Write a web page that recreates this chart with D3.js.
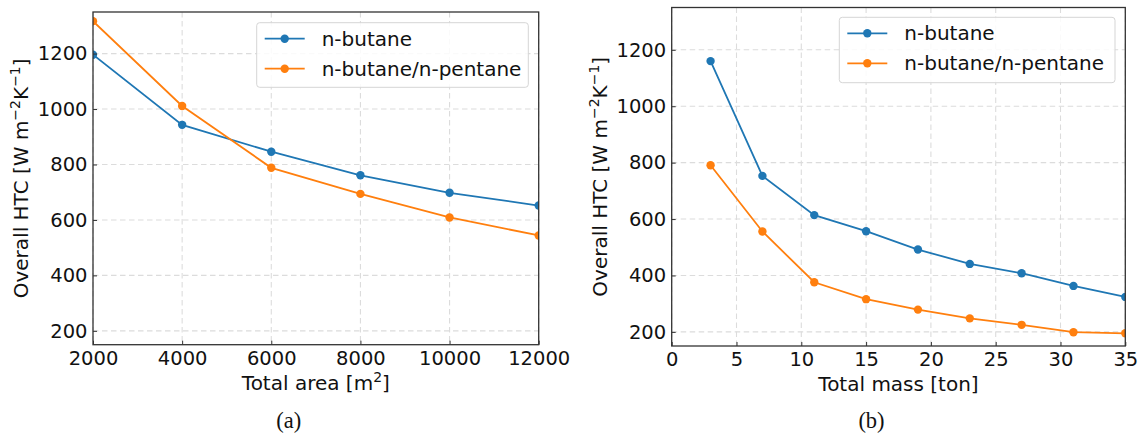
<!DOCTYPE html>
<html><head><meta charset="utf-8">
<script src="https://cdn.jsdelivr.net/npm/d3@7"></script>
<style>body{margin:0;background:#fff}svg{display:block}</style>
</head><body>
<svg id="c" width="1142" height="436"></svg>
<script>
// ---- data ----
const seriesNames = ["n-butane", "n-butane/n-pentane"];
const seriesColors = ["#1f77b4", "#ff7f0e"];
const areaX = [2000, 4000, 6000, 8000, 10000, 12000];
const areaButane = [1196, 943, 846, 761, 698, 652];
const areaMix = [1317, 1011, 788, 694, 609, 544];
const massX = [3, 7, 11, 15, 19, 23, 27, 31, 35];
const massButane = [1160, 753, 614, 557, 492, 441, 408, 363, 324];
const massMix = [791, 556, 376, 316, 279, 248, 225, 199, 195];
const yTicks = [200, 400, 600, 800, 1000, 1200];
const areaTicks = [2000, 4000, 6000, 8000, 10000, 12000];
const massTicks = [0, 5, 10, 15, 20, 25, 30, 35];

const svg = d3.select("#c");
const FONT = "DejaVu Sans";
const FS = 20;

function panel(id, box, xDomain, xTicks, xs, ysList, xLabelParts, caption, legendBox) {
  const g = svg.append("g");
  const x = d3.scaleLinear().domain(xDomain).range([box.l, box.r]);
  const y = d3.scaleLinear().domain([150, 1350]).range([box.b, box.t]);

  // grid
  g.selectAll(".gx").data(xTicks).enter().append("line")
    .attr("x1", d => x(d)).attr("x2", d => x(d)).attr("y1", box.t).attr("y2", box.b)
    .attr("stroke", "#dcdcdc").attr("stroke-width", 1.1).attr("stroke-dasharray", "5.5,3.5");
  g.selectAll(".gy").data(yTicks).enter().append("line")
    .attr("y1", d => y(d)).attr("y2", d => y(d)).attr("x1", box.l).attr("x2", box.r)
    .attr("stroke", "#dcdcdc").attr("stroke-width", 1.1).attr("stroke-dasharray", "5.5,3.5");

  // clip
  svg.append("clipPath").attr("id", "clip" + id).append("rect")
    .attr("x", box.l).attr("y", box.t).attr("width", box.r - box.l).attr("height", box.b - box.t);
  const pg = g.append("g").attr("clip-path", `url(#clip${id})`);
  const line = d3.line().x((d, i) => x(xs[i])).y(d => y(d));
  ysList.forEach((ys, k) => {
    pg.append("path").datum(ys).attr("d", line).attr("fill", "none")
      .attr("stroke", seriesColors[k]).attr("stroke-width", 1.8);
    pg.selectAll(".m" + k).data(ys).enter().append("circle")
      .attr("cx", (d, i) => x(xs[i])).attr("cy", d => y(d)).attr("r", 4.2)
      .attr("fill", seriesColors[k]);
  });

  // axes
  const xa = g.append("g").attr("transform", `translate(0,${box.b})`)
    .call(d3.axisBottom(x).tickValues(xTicks).tickSize(-4).tickPadding(6).tickFormat(d3.format("d")));
  const ya = g.append("g").attr("transform", `translate(${box.l},0)`)
    .call(d3.axisLeft(y).tickValues(yTicks).tickSize(-4).tickPadding(5.5).tickFormat(d3.format("d")));
  [xa, ya].forEach(a => {
    a.select(".domain").remove();
    a.selectAll(".tick line").attr("stroke", "#333");
    a.selectAll("text").attr("font-family", FONT).attr("font-size", 19.5).attr("fill", "#111");
  });
  xa.selectAll("text").attr("dy", "0.71em");
  // frame
  g.append("rect").attr("x", box.l).attr("y", box.t).attr("width", box.r - box.l).attr("height", box.b - box.t)
    .attr("fill", "none").attr("stroke", "#333").attr("stroke-width", 1.3);

  // x label
  const xl = g.append("text").attr("x", (box.l + box.r) / 2).attr("y", box.b + 45)
    .attr("text-anchor", "middle").attr("font-family", FONT).attr("font-size", FS).attr("fill", "#111");
  xLabelParts.forEach(p => {
    const t = xl.append("tspan").text(p.t);
    if (p.sup) t.attr("font-size", 14).attr("dy", -8);
    else if (p.after) t.attr("dy", 8);
  });

  // y label
  const yl = g.append("text")
    .attr("transform", `translate(${box.l - 65},${(box.t + box.b) / 2}) rotate(-90)`)
    .attr("text-anchor", "middle").attr("font-family", FONT).attr("font-size", FS).attr("fill", "#111");
  yl.append("tspan").text("Overall HTC [W m");
  yl.append("tspan").text("\u22122").attr("font-size", 14).attr("dy", -8);
  yl.append("tspan").text("K").attr("dy", 8);
  yl.append("tspan").text("\u22121").attr("font-size", 14).attr("dy", -8);
  yl.append("tspan").text("]").attr("dy", 8);

  // caption
  g.append("text").attr("x", (box.l + box.r) / 2 - 27).attr("y", 428)
    .attr("text-anchor", "middle").attr("font-family", "Liberation Serif").attr("font-size", 22.5)
    .attr("fill", "#111").text(caption);

  // legend
  const lg = g.append("g");
  lg.append("rect").attr("x", legendBox.x).attr("y", legendBox.y).attr("width", legendBox.w).attr("height", legendBox.h)
    .attr("rx", 3).attr("fill", "#fff").attr("fill-opacity", 0.85).attr("stroke", "#d5d5d5").attr("stroke-width", 1);
  seriesNames.forEach((nm, k) => {
    const cy = legendBox.y + 16 + k * 30;
    const hx = legendBox.x + 8;
    lg.append("line").attr("x1", hx).attr("x2", hx + 40).attr("y1", cy).attr("y2", cy)
      .attr("stroke", seriesColors[k]).attr("stroke-width", 1.8);
    lg.append("circle").attr("cx", hx + 20).attr("cy", cy).attr("r", 4.2).attr("fill", seriesColors[k]);
    lg.append("text").attr("x", hx + 57).attr("y", cy).attr("dy", "0.35em")
      .attr("font-family", FONT).attr("font-size", FS).attr("fill", "#111").text(nm);
  });
}

panel("a", {l: 93, r: 538.7, t: 12, b: 344.7}, [2000, 12000], areaTicks, areaX, [areaButane, areaMix],
  [{t: "Total area [m"}, {t: "2", sup: true}, {t: "]", after: true}], "(a)",
  {x: 256.7, y: 22.7, w: 271.6, h: 64.6});
panel("b", {l: 671.7, r: 1125.3, t: 7.5, b: 346}, [0, 35], massTicks, massX, [massButane, massMix],
  [{t: "Total mass [ton]"}], "(b)",
  {x: 839.3, y: 17.3, w: 275.7, h: 65.4});
</script>
</body></html>
